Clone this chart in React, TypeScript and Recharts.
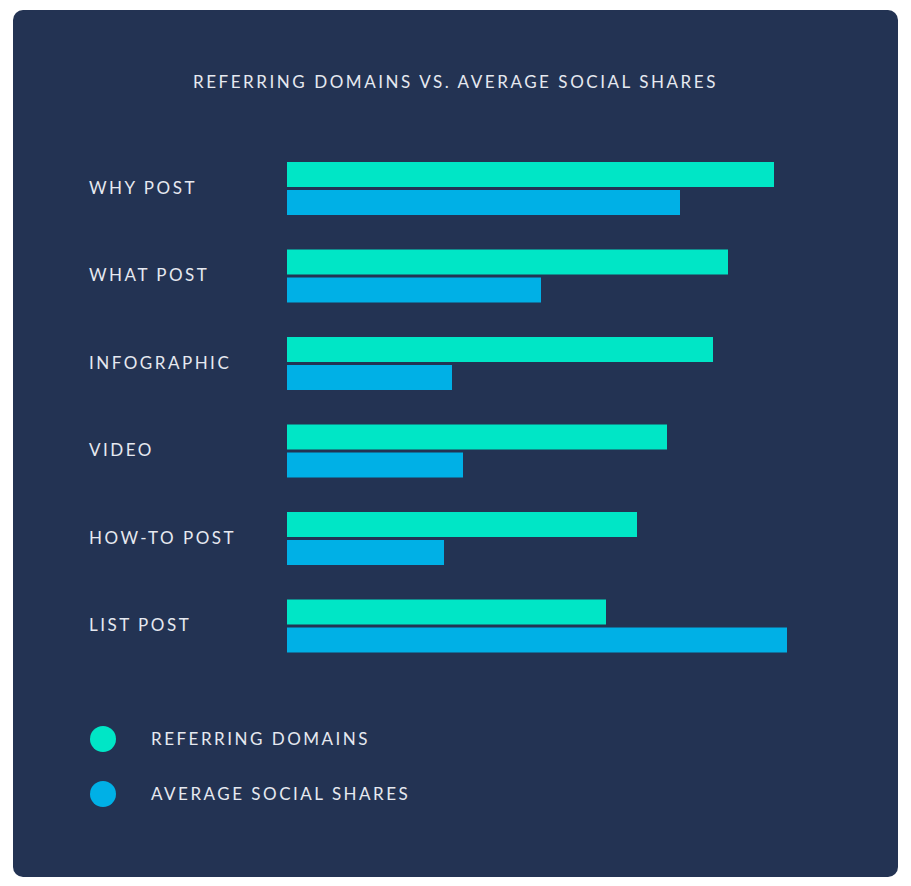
import { BarChart, Bar, XAxis, YAxis, Legend } from 'recharts'

const CATEGORIES = ['WHY POST', 'WHAT POST', 'INFOGRAPHIC', 'VIDEO', 'HOW-TO POST', 'LIST POST']
const REFERRING_DOMAINS = [487, 441, 426, 380, 350, 319]
const SOCIAL_SHARES = [393, 254, 165, 176, 157, 500]

const TEAL = '#00E6C6'
const BLUE = '#00B0E6'
const NAVY = '#233353'
const TEXT = '#E6E9F0'
const FONT = 'Lato, "Open Sans", sans-serif'

const data = CATEGORIES.map((name, i) => ({
  name,
  domains: REFERRING_DOMAINS[i],
  shares: SOCIAL_SHARES[i],
}))

function CategoryTick({ y, payload }: any) {
  return (
    <text
      x={76}
      y={y}
      dy={5}
      textAnchor="start"
      fill={TEXT}
      fontSize={17}
      fontFamily={FONT}
      letterSpacing={2.5}
    >
      {payload.value}
    </text>
  )
}

function LegendContent() {
  const items = [
    { label: 'REFERRING DOMAINS', color: TEAL },
    { label: 'AVERAGE SOCIAL SHARES', color: BLUE },
  ]
  return (
    <div>
      {items.map((it) => (
        <div key={it.label} style={{ display: 'flex', alignItems: 'center', height: 55 }}>
          <div style={{ width: 26, height: 26, borderRadius: '50%', background: it.color }} />
          <span
            style={{
              marginLeft: 35,
              color: TEXT,
              fontSize: 17,
              fontFamily: FONT,
              letterSpacing: 2.5,
            }}
          >
            {it.label}
          </span>
        </div>
      ))}
    </div>
  )
}

export default function App() {
  return (
    <div style={{ position: 'absolute', left: 0, top: 0, width: 911, height: 886, background: '#fff' }}>
      <div
        style={{
          position: 'absolute',
          left: 13,
          top: 10,
          width: 885,
          height: 867,
          borderRadius: 10,
          background: NAVY,
          overflow: 'hidden',
        }}
      >
        <div
          style={{
            position: 'absolute',
            top: 61,
            left: 0,
            width: 885,
            textAlign: 'center',
            color: TEXT,
            fontSize: 17,
            fontFamily: FONT,
            letterSpacing: 2.55,
          }}
        >
          REFERRING DOMAINS VS. AVERAGE SOCIAL SHARES
        </div>
        <BarChart
          width={885}
          height={867}
          data={data}
          layout="vertical"
          margin={{ top: 135, right: 111, bottom: 207, left: 0 }}
          barGap={3}
          barSize={25}
        >
          <XAxis type="number" domain={[0, 500]} hide />
          <YAxis
            type="category"
            dataKey="name"
            width={274}
            axisLine={false}
            tickLine={false}
            tick={<CategoryTick />}
          />
          <Bar dataKey="domains" name="Referring Domains" fill={TEAL} isAnimationActive={false} />
          <Bar dataKey="shares" name="Average Social Shares" fill={BLUE} isAnimationActive={false} />
          <Legend
            layout="vertical"
            verticalAlign="middle"
            align="center"
            content={<LegendContent />}
            wrapperStyle={{ left: 77, top: 701, width: 500, height: 110 }}
          />
        </BarChart>
      </div>
    </div>
  )
}
